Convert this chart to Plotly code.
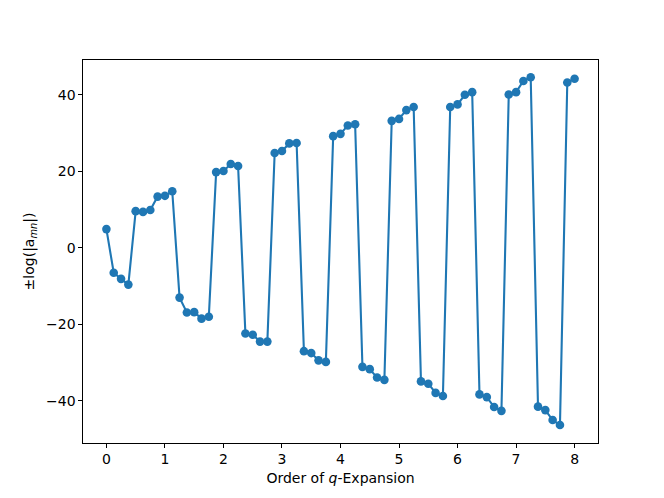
import plotly.graph_objects as go

# order of the q-expansion (one point every 1/8)
order = [0.0, 0.125, 0.25, 0.375, 0.5, 0.625, 0.75, 0.875,
         1.0, 1.125, 1.25, 1.375, 1.5, 1.625, 1.75, 1.875,
         2.0, 2.125, 2.25, 2.375, 2.5, 2.625, 2.75, 2.875,
         3.0, 3.125, 3.25, 3.375, 3.5, 3.625, 3.75, 3.875,
         4.0, 4.125, 4.25, 4.375, 4.5, 4.625, 4.75, 4.875,
         5.0, 5.125, 5.25, 5.375, 5.5, 5.625, 5.75, 5.875,
         6.0, 6.125, 6.25, 6.375, 6.5, 6.625, 6.75, 6.875,
         7.0, 7.125, 7.25, 7.375, 7.5, 7.625, 7.75, 7.875,
         8.0]

# signed log of the coefficients
log_amn = [4.9, -6.5, -8.1, -9.6, 9.6, 9.4, 9.9, 13.4,
           13.6, 14.8, -13.0, -16.9, -16.8, -18.5, -18.0, 19.8,
           20.1, 21.9, 21.4, -22.4, -22.7, -24.5, -24.5, 24.8,
           25.3, 27.3, 27.4, -27.0, -27.5, -29.4, -29.8, 29.2,
           29.8, 32.0, 32.3, -31.1, -31.7, -33.9, -34.5, 33.2,
           33.7, 36.0, 36.8, -34.9, -35.5, -37.9, -38.7, 36.8,
           37.5, 40.0, 40.7, -38.3, -39.0, -41.6, -42.6, 40.1,
           40.7, 43.6, 44.6, -41.5, -42.4, -45.0, -46.3, 43.2,
           44.2]

x_ticks = [0, 1, 2, 3, 4, 5, 6, 7, 8]
y_ticks = [-40, -20, 0, 20, 40]

fig = go.Figure()
fig.add_trace(go.Scatter(
    x=order, y=log_amn,
    mode='lines+markers',
    line=dict(color='#1f77b4', width=2.1),
    marker=dict(color='#1f77b4', size=8.6),
    showlegend=False
))

axis_style = dict(
    showline=True, linecolor='black', linewidth=1.1, mirror=True,
    ticks='outside', ticklen=3.6, tickwidth=1.1, tickcolor='black',
    showgrid=False, zeroline=False,
    tickfont=dict(family='DejaVu Sans', size=14, color='black'),
)

# the page body adds 8px, so margins are shifted to keep the axes in place
fig.update_layout(
    width=664, height=498,
    margin=dict(l=75, r=74, t=52, b=63),
    paper_bgcolor='white', plot_bgcolor='white',
    font=dict(family='DejaVu Sans', size=14, color='black'),
    xaxis=dict(range=[-0.4, 8.4], tickvals=x_ticks,
               title=dict(text='Order of <i>q</i>-Expansion', standoff=6,
                          font=dict(size=14)),
               **axis_style),
    yaxis=dict(range=[-51.0, 49.1], tickvals=y_ticks,
               title=dict(text='±log(|a<sub><i>mn</i></sub>|)', standoff=8,
                          font=dict(size=14)),
               **axis_style),
)

fig.write_html("out.html")
